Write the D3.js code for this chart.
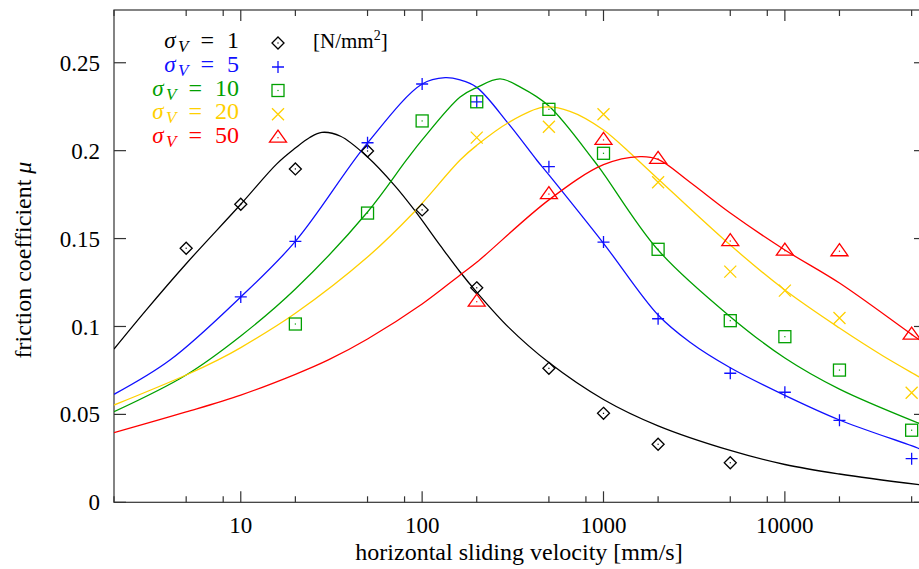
<!DOCTYPE html>
<html><head><meta charset="utf-8">
<script src="https://cdn.jsdelivr.net/npm/d3@7"></script>
<style>
html,body{margin:0;padding:0;background:#fff;}
svg{display:block;}
svg text{font-family:"Liberation Serif","Times New Roman",serif;}
</style></head>
<body>
<svg id="chart" width="919" height="569"></svg>
<script>
// ---- data ----
const sigmaLabels = ["1", "5", "10", "20", "50"];
const seriesColors = ["#000000", "#1010ff", "#00a000", "#ffd000", "#ff0000"];
const markerTypes = ["diamond", "plus", "square", "cross", "triangle"];

// measured points
const vel1 = [5, 10, 20, 50, 100, 200, 500, 1000, 2000, 5000];
const mu1 = [0.1445, 0.1695, 0.1896, 0.1998, 0.1663, 0.122, 0.0762, 0.0506, 0.033, 0.0225];
const vel5 = [10, 20, 50, 100, 200, 500, 1000, 2000, 5000, 10000, 20000, 50000];
const mu5 = [0.1168, 0.1484, 0.2045, 0.2379, 0.2278, 0.1909, 0.148, 0.1044, 0.0734, 0.0626, 0.0466, 0.0248];
const vel10 = [20, 50, 100, 200, 500, 1000, 2000, 5000, 10000, 20000, 50000];
const mu10 = [0.1014, 0.1645, 0.2169, 0.2278, 0.2235, 0.1985, 0.1439, 0.1033, 0.0942, 0.0752, 0.041];
const vel20 = [200, 500, 1000, 2000, 5000, 10000, 20000, 50000];
const mu20 = [0.2074, 0.2136, 0.2207, 0.182, 0.1312, 0.1204, 0.1048, 0.0623];
const vel50 = [200, 500, 1000, 2000, 5000, 10000, 20000, 50000];
const mu50 = [0.1141, 0.1753, 0.2061, 0.1953, 0.1486, 0.1431, 0.1428, 0.0954];

// fitted curves
const fitX1 = [2, 3, 5, 10, 15.8, 20, 24, 28, 35.5, 50, 70.8, 91, 126, 162, 200, 300, 500, 1000, 2000, 5000, 10000, 20000, 60000];
const fitY1 = [0.0872, 0.1092, 0.1357, 0.1695, 0.1925, 0.2015, 0.2075, 0.2104, 0.2082, 0.1964, 0.180, 0.166, 0.146, 0.131, 0.1195, 0.0995, 0.0795, 0.0585, 0.0435, 0.0295, 0.0215, 0.0161, 0.0095];
const fitX5 = [2, 4.07, 10, 20, 50, 100, 134, 162, 200, 300, 428, 500, 1000, 2000, 3000, 5000, 10000, 20000, 55000, 60000];
const fitY5 = [0.0614, 0.0809, 0.1168, 0.1484, 0.2044, 0.2379, 0.2415, 0.2402, 0.236, 0.2152, 0.1947, 0.1862, 0.1473, 0.1065, 0.091, 0.0765, 0.0608, 0.0468, 0.0305, 0.0287];
const fitX10 = [2, 5, 10, 20, 50, 82, 100, 162, 200, 269, 350, 500, 880, 1000, 2000, 5000, 10000, 20000, 55000, 60000];
const fitY10 = [0.0515, 0.0724, 0.0946, 0.1213, 0.1651, 0.1947, 0.2061, 0.2305, 0.2359, 0.2408, 0.236, 0.2254, 0.1947, 0.187, 0.1435, 0.1056, 0.0821, 0.0644, 0.0449, 0.0434];
const fitX20 = [2, 5, 7.5, 10, 20, 50, 89, 162, 200, 300, 466, 653, 1000, 1460, 2000, 5000, 10000, 20000, 34800, 55000, 60000];
const fitY20 = [0.0553, 0.0724, 0.081, 0.088, 0.1075, 0.1395, 0.1644, 0.1947, 0.203, 0.216, 0.2247, 0.2224, 0.2118, 0.197, 0.1839, 0.1463, 0.1207, 0.0991, 0.0832, 0.0713, 0.069];
const fitX50 = [2, 5, 10, 20, 30.4, 50, 100, 162, 200, 500, 1000, 1590, 2000, 3000, 5000, 10000, 20000, 50000, 60000];
const fitY50 = [0.0396, 0.0514, 0.061, 0.0728, 0.081, 0.0929, 0.1128, 0.1293, 0.1365, 0.172, 0.192, 0.1966, 0.195, 0.182, 0.1645, 0.1435, 0.1247, 0.0955, 0.0898];

const yTicks = [0, 0.05, 0.1, 0.15, 0.2, 0.25];
const yTickLabels = ["0", "0.05", "0.1", "0.15", "0.2", "0.25"];
const xMajorTicks = [10, 100, 1000, 10000];
const xTickLabels = ["10", "100", "1000", "10000"];
const xMinorTicks = [2, 5, 8, 20, 50, 80, 200, 500, 800, 2000, 5000, 8000, 20000, 50000];

const xTitle = "horizontal sliding velocity [mm/s]";
const yTitle = "friction coefficient ";
const unitLabel = "[N/mm";

// ---- drawing ----
const svg = d3.select("#chart");
const L = 114, R = 926, T = 10, B = 502.3;
const x = d3.scaleLog().domain([2, 60000]).range([L, R]);
const y = d3.scaleLinear().domain([0, 0.28]).range([B, T]);
const axisColor = "#333";

svg.append("defs").append("clipPath").attr("id", "clip")
  .append("rect").attr("x", L).attr("y", T).attr("width", R - L).attr("height", B - T);

// frame
svg.append("rect").attr("x", L).attr("y", T).attr("width", R - L).attr("height", B - T)
  .attr("fill", "none").attr("stroke", axisColor).attr("stroke-width", 1.2);

// y ticks
const gy = svg.append("g");
yTicks.forEach((v, i) => {
  gy.append("line").attr("x1", L).attr("x2", L + 12).attr("y1", y(v)).attr("y2", y(v))
    .attr("stroke", axisColor).attr("stroke-width", 1.2);
  gy.append("line").attr("x1", R).attr("x2", R - 12).attr("y1", y(v)).attr("y2", y(v))
    .attr("stroke", axisColor).attr("stroke-width", 1.2);
  gy.append("text").attr("x", 100).attr("y", y(v)).attr("dy", "0.35em")
    .attr("text-anchor", "end").attr("font-size", 23).attr("fill", "#000").text(yTickLabels[i]);
});
// x ticks
const gx = svg.append("g");
xMajorTicks.forEach((v, i) => {
  gx.append("line").attr("x1", x(v)).attr("x2", x(v)).attr("y1", B).attr("y2", B - 11)
    .attr("stroke", axisColor).attr("stroke-width", 1.2);
  gx.append("line").attr("x1", x(v)).attr("x2", x(v)).attr("y1", T).attr("y2", T + 11)
    .attr("stroke", axisColor).attr("stroke-width", 1.2);
  gx.append("text").attr("x", x(v)).attr("y", 533).attr("text-anchor", "middle")
    .attr("font-size", 23).attr("fill", "#000").text(xTickLabels[i]);
});
xMinorTicks.forEach(v => {
  gx.append("line").attr("x1", x(v)).attr("x2", x(v)).attr("y1", B).attr("y2", B - 6)
    .attr("stroke", axisColor).attr("stroke-width", 1.2);
  gx.append("line").attr("x1", x(v)).attr("x2", x(v)).attr("y1", T).attr("y2", T + 6)
    .attr("stroke", axisColor).attr("stroke-width", 1.2);
});

// axis titles
svg.append("text").attr("x", 519).attr("y", 560).attr("text-anchor", "middle")
  .attr("font-size", 24).attr("fill", "#000").text(xTitle);
const yt = svg.append("text").attr("transform", "translate(31,260) rotate(-90)")
  .attr("text-anchor", "middle").attr("font-size", 24).attr("fill", "#000");
yt.append("tspan").text(yTitle);
yt.append("tspan").attr("font-style", "italic").text("μ");

// curves
const fits = [[fitX1, fitY1], [fitX5, fitY5], [fitX10, fitY10], [fitX20, fitY20], [fitX50, fitY50]];
const line = d3.line().x(d => x(d[0])).y(d => y(d[1])).curve(d3.curveCatmullRom.alpha(0.5));
const gc = svg.append("g").attr("clip-path", "url(#clip)");
fits.forEach((f, i) => {
  const pts = f[0].map((v, j) => [v, f[1][j]]);
  gc.append("path").attr("d", line(pts)).attr("fill", "none")
    .attr("stroke", seriesColors[i]).attr("stroke-width", 1.3);
});

// markers
function drawMarker(g, type, cx, cy, color) {
  const sw = 1.3;
  if (type === "diamond") {
    g.append("path").attr("d", `M${cx},${cy-6}L${cx+6},${cy}L${cx},${cy+6}L${cx-6},${cy}Z`)
      .attr("fill", "none").attr("stroke", color).attr("stroke-width", sw);
    g.append("rect").attr("x", cx - 0.6).attr("y", cy - 0.6).attr("width", 1.2).attr("height", 1.2).attr("fill", color);
  } else if (type === "plus") {
    g.append("path").attr("d", `M${cx-6},${cy}H${cx+6}M${cx},${cy-6}V${cy+6}`)
      .attr("stroke", color).attr("stroke-width", sw);
  } else if (type === "square") {
    g.append("rect").attr("x", cx - 6).attr("y", cy - 6).attr("width", 12).attr("height", 12)
      .attr("fill", "none").attr("stroke", color).attr("stroke-width", sw);
    g.append("rect").attr("x", cx - 0.6).attr("y", cy - 0.6).attr("width", 1.2).attr("height", 1.2).attr("fill", color);
  } else if (type === "cross") {
    g.append("path").attr("d", `M${cx-6},${cy-6}L${cx+6},${cy+6}M${cx-6},${cy+6}L${cx+6},${cy-6}`)
      .attr("stroke", color).attr("stroke-width", sw);
  } else if (type === "triangle") {
    g.append("path").attr("d", `M${cx},${cy-7.5}L${cx+8.5},${cy+4.5}L${cx-8.5},${cy+4.5}Z`)
      .attr("fill", "none").attr("stroke", color).attr("stroke-width", sw);
    g.append("rect").attr("x", cx - 0.6).attr("y", cy - 0.6).attr("width", 1.2).attr("height", 1.2).attr("fill", color);
  }
}
const pointSets = [[vel1, mu1], [vel5, mu5], [vel10, mu10], [vel20, mu20], [vel50, mu50]];
const gm = svg.append("g");
pointSets.forEach((p, i) => {
  p[0].forEach((v, j) => drawMarker(gm, markerTypes[i], x(v), y(p[1][j]), seriesColors[i]));
});

// legend: pieces laid out right-to-left as separate texts
const legRowY = [43, 67, 90.5, 114.3, 137.7];
const gl = svg.append("g");
sigmaLabels.forEach((s, i) => {
  const base = legRowY[i] + 5;
  const c = seriesColors[i];
  const num = gl.append("text").attr("x", 239).attr("y", base).attr("text-anchor", "end")
    .attr("font-size", 24).attr("fill", c).text(s);
  let right = 239 - num.node().getComputedTextLength() - 13;
  const eq = gl.append("text").attr("x", right).attr("y", base).attr("text-anchor", "end")
    .attr("font-size", 24).attr("fill", c).text("=");
  right = right - eq.node().getComputedTextLength() - 12;
  const sub = gl.append("text").attr("x", right).attr("y", base + 4).attr("text-anchor", "end")
    .attr("font-size", 17).attr("font-style", "italic").attr("fill", c).text("V");
  right = right - sub.node().getComputedTextLength() - 2.5;
  gl.append("text").attr("x", right).attr("y", base).attr("text-anchor", "end")
    .attr("font-size", 23).attr("font-style", "italic").attr("fill", c).text("σ");
  drawMarker(gl, markerTypes[i], 278, legRowY[i], c);
});
const ut = gl.append("text").attr("x", 313).attr("y", 48).attr("font-size", 21).attr("fill", "#000");
ut.append("tspan").text(unitLabel);
ut.append("tspan").attr("font-size", 14).attr("dy", -8).text("2");
ut.append("tspan").attr("dy", 8).text("]");
</script>
</body></html>
